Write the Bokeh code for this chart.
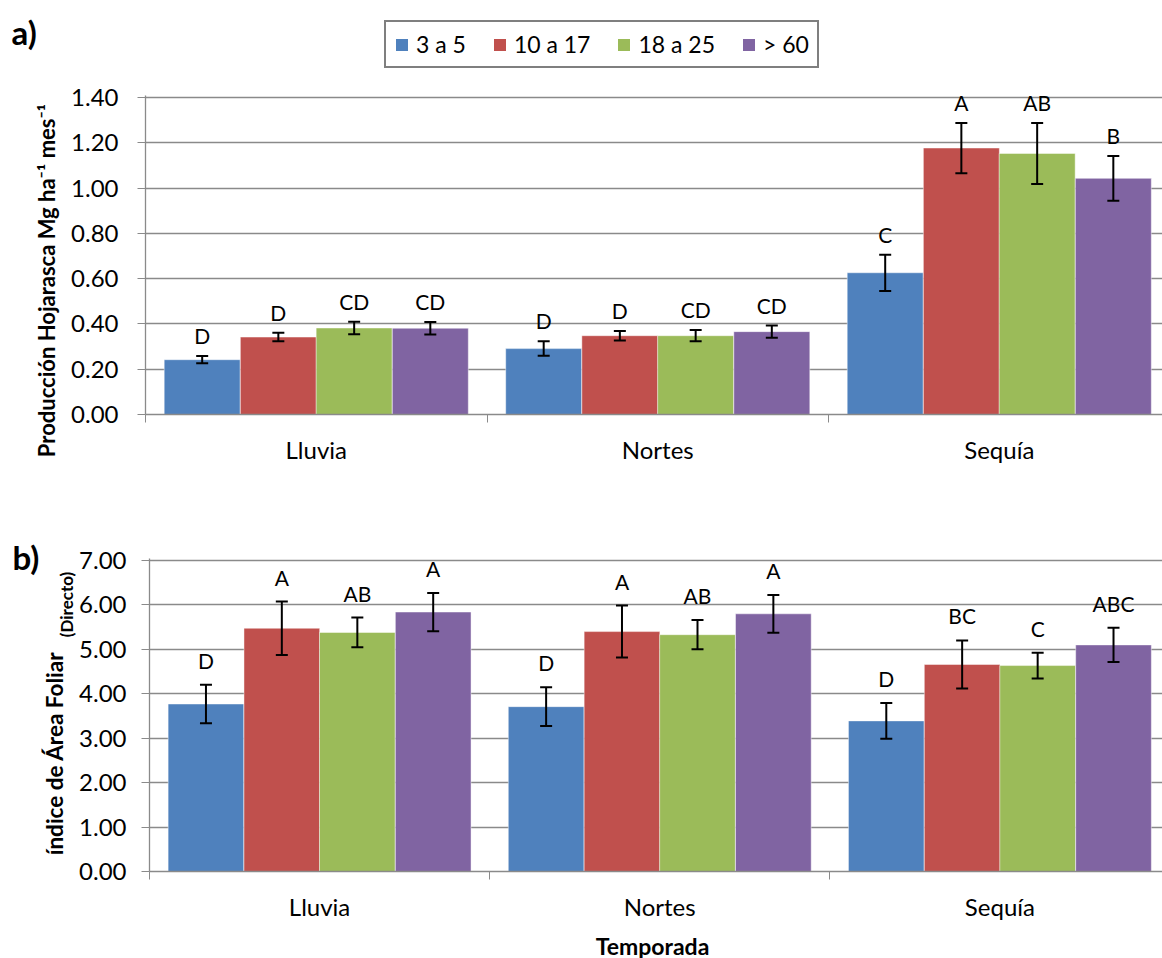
import math
from bokeh.plotting import figure
from bokeh.models import (ColumnDataSource, Range1d, FixedTicker, NumeralTickFormatter,
                          Whisker, TeeHead, LabelSet, Label, Legend, LegendItem, Plot)
from bokeh.layouts import column, row
from bokeh.embed import file_html
from bokeh.resources import INLINE
from bokeh.core.properties import value

# ---------------- data ----------------
seasons = ["Lluvia", "Nortes", "Sequía"]
groups = ["3 a 5", "10 a 17", "18 a 25", "> 60"]
colors = ["#4F81BD", "#C0504D", "#9BBB59", "#8064A2"]

# a) Producción de hojarasca (Mg ha-1 mes-1)
hoja_3_5 = [0.242, 0.291, 0.626]
hoja_10_17 = [0.342, 0.348, 1.177]
hoja_18_25 = [0.382, 0.348, 1.153]
hoja_60 = [0.381, 0.366, 1.043]
hoja_err_3_5 = [0.016, 0.032, 0.080]
hoja_err_10_17 = [0.019, 0.021, 0.111]
hoja_err_18_25 = [0.028, 0.025, 0.135]
hoja_err_60 = [0.028, 0.027, 0.099]
hoja_lbl_3_5 = ["D", "D", "C"]
hoja_lbl_10_17 = ["D", "D", "A"]
hoja_lbl_18_25 = ["CD", "CD", "AB"]
hoja_lbl_60 = ["CD", "CD", "B"]

# b) Índice de área foliar (directo)
iaf_3_5 = [3.77, 3.71, 3.39]
iaf_10_17 = [5.475, 5.40, 4.66]
iaf_18_25 = [5.38, 5.33, 4.635]
iaf_60 = [5.84, 5.80, 5.10]
iaf_err_3_5 = [0.435, 0.435, 0.40]
iaf_err_10_17 = [0.60, 0.585, 0.54]
iaf_err_18_25 = [0.335, 0.33, 0.29]
iaf_err_60 = [0.43, 0.425, 0.385]
iaf_lbl_3_5 = ["D", "D", "D"]
iaf_lbl_10_17 = ["A", "A", "BC"]
iaf_lbl_18_25 = ["AB", "AB", "C"]
iaf_lbl_60 = ["A", "A", "ABC"]

hoja_ticks = [0.0, 0.2, 0.4, 0.6, 0.8, 1.0, 1.2, 1.4]
iaf_ticks = [0, 1, 2, 3, 4, 5, 6, 7]

hoja = [hoja_3_5, hoja_10_17, hoja_18_25, hoja_60]
hoja_err = [hoja_err_3_5, hoja_err_10_17, hoja_err_18_25, hoja_err_60]
hoja_lbl = [hoja_lbl_3_5, hoja_lbl_10_17, hoja_lbl_18_25, hoja_lbl_60]
iaf = [iaf_3_5, iaf_10_17, iaf_18_25, iaf_60]
iaf_err = [iaf_err_3_5, iaf_err_10_17, iaf_err_18_25, iaf_err_60]
iaf_lbl = [iaf_lbl_3_5, iaf_lbl_10_17, iaf_lbl_18_25, iaf_lbl_60]

# ---------------- style ----------------
FONT = "Lato"
GRID = "#8A8A8A"
BAR_W = 0.2225
OFFS = [-0.334, -0.111, 0.111, 0.334]
XEND = 2.978
FA = {"frame_align": False} if "frame_align" in Plot.properties() else {}


def strip(width, height):
    s = figure(width=width, height=height, output_backend="svg", toolbar_location=None,
               title=None, x_range=Range1d(0, width), y_range=Range1d(0, height),
               x_axis_location=None, y_axis_location=None, min_border=0,
               outline_line_color=None, background_fill_color="white",
               border_fill_color="white", **FA)
    s.grid.visible = False
    return s


def make_panel(vals, errs, lbls, ticks, yend, width, height, top, bottom, left, label_off,
               ystandoff):
    p = figure(width=width, height=height, output_backend="svg", toolbar_location=None,
               title=None, x_range=Range1d(0, XEND), y_range=Range1d(0, yend),
               min_border_top=top, min_border_bottom=bottom, min_border_left=left,
               min_border_right=0, background_fill_color="white",
               border_fill_color="white", outline_line_color=None, **FA)
    renderers = []
    for j in range(len(groups)):
        xs = [i + 0.5 + OFFS[j] for i in range(len(seasons))]
        src = ColumnDataSource(dict(
            x=xs, top=vals[j],
            upper=[v + e for v, e in zip(vals[j], errs[j])],
            lower=[v - e for v, e in zip(vals[j], errs[j])],
            lbl=lbls[j]))
        r = p.vbar(x="x", top="top", width=BAR_W, source=src, fill_color=colors[j],
                   line_color="white", line_alpha=0.45, line_width=1)
        renderers.append(r)
        w = Whisker(base="x", upper="upper", lower="lower", source=src, level="overlay",
                    line_color="black", line_width=2,
                    upper_head=TeeHead(size=12, line_color="black", line_width=2),
                    lower_head=TeeHead(size=12, line_color="black", line_width=2))
        p.add_layout(w)
        ls = LabelSet(x="x", y="upper", text="lbl", source=src, y_offset=label_off,
                      text_align="center", text_baseline="alphabetic",
                      text_font=value(FONT), text_font_size="21px", text_color="black")
        p.add_layout(ls)

    xa = p.xaxis[0]
    xa.ticker = FixedTicker(ticks=[i + 0.5 for i in range(len(seasons))],
                            minor_ticks=list(range(len(seasons) + 1)))
    xa.major_label_overrides = {i + 0.5: s for i, s in enumerate(seasons)}
    xa.major_tick_out = 0
    xa.major_tick_in = 0
    xa.minor_tick_out = 8
    xa.minor_tick_in = 0
    xa.minor_tick_line_color = GRID
    xa.axis_line_color = GRID
    xa.axis_line_width = 1.3
    xa.major_label_standoff = 12
    xa.major_label_text_font = FONT
    xa.major_label_text_font_size = "24px"
    xa.major_label_text_color = "black"

    ya = p.yaxis[0]
    ya.ticker = FixedTicker(ticks=ticks)
    ya.formatter = NumeralTickFormatter(format="0.00")
    ya.major_tick_out = 8
    ya.major_tick_in = 0
    ya.minor_tick_line_color = None
    ya.major_tick_line_color = GRID
    ya.axis_line_color = GRID
    ya.axis_line_width = 1.3
    ya.major_label_standoff = ystandoff
    ya.major_label_text_font = FONT
    ya.major_label_text_font_size = "24px"
    ya.major_label_text_color = "black"

    p.xgrid.grid_line_color = None
    p.ygrid.grid_line_color = GRID
    p.ygrid.grid_line_width = 1.3
    return p, renderers


def txt(fig, x, y, text, size, bold=False, angle=0.0, align="left"):
    fig.add_layout(Label(x=x, y=y, x_units="screen", y_units="screen", text=text,
                         angle=angle, text_align=align, text_baseline="alphabetic",
                         text_font=FONT, text_font_style="bold" if bold else "normal",
                         text_font_size=size, text_color="black"))


# ---- top strip (page y 0..82): panel letter a) and legend ----
top_a = strip(1162, 82)
proxies = [top_a.vbar(x=[float("nan")], top=[float("nan")], width=1, fill_color=c,
                      line_color=None) for c in colors]
legend = Legend(items=[LegendItem(label=g, renderers=[r]) for g, r in zip(groups, proxies)],
                orientation="horizontal", location=(384, 14),
                glyph_width=15, glyph_height=15, label_standoff=7, spacing=26,
                padding=8, margin=0, label_text_font=FONT, label_text_font_size="23px",
                label_text_color="black", border_line_color="black", border_line_width=2,
                background_fill_color="white", background_fill_alpha=1)
top_a.add_layout(legend, "center")
txt(top_a, 11, 51, "a)", "33px", bold=True)

# ---- panel a (page y 82..480) ----
left_a = strip(60, 398)
txt(left_a, 46, 200, "Producción Hojarasca Mg ha⁻¹ mes⁻¹", "22px", bold=True,
    angle=math.pi / 2, align="center")
pa, rend_a = make_panel(hoja, hoja_err, hoja_lbl, hoja_ticks, 1.409, 1102, 398, 13, 66, 85,
                        12, 19)

# ---- panel b (page y 480..925) ----
left_b = strip(76, 445)
txt(left_b, 12, 369, "b)", "33px", bold=True)
txt(left_b, 53.5, 172, "índice de Área Foliar", "22.5px", bold=True,
    angle=math.pi / 2, align="center")
txt(left_b, 66, 321, "(Directo)", "17px", bold=True, angle=math.pi / 2, align="center")
pb, rend_b = make_panel(iaf, iaf_err, iaf_lbl, iaf_ticks, 7.045, 1086, 445, 78, 54, 71,
                        16, 15)

# ---- bottom strip (page y 925..958): x-axis title ----
bot = strip(1162, 33)
txt(bot, 652, 13, "Temporada", "23px", bold=True, align="center")

layout = column(top_a, row(left_a, pa, spacing=0), row(left_b, pb, spacing=0), bot,
                spacing=0)
open("out.html", "w").write(file_html(layout, INLINE))
